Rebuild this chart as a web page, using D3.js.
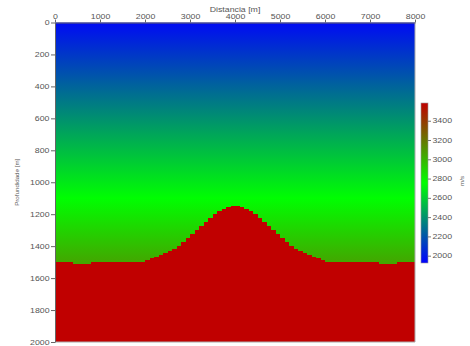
<!DOCTYPE html>
<html>
<head>
<meta charset="utf-8">
<script src="https://cdn.jsdelivr.net/npm/d3@7"></script>
<style>
  body { margin: 0; background: #fff; }
  text { font-family: "Liberation Sans", Arial, sans-serif; fill: #555; }
</style>
</head>
<body>
<svg id="chart" width="470" height="346"></svg>
<script>
// ticks
const distTicks = [0, 1000, 2000, 3000, 4000, 5000, 6000, 7000, 8000];
const depthTicks = [0, 200, 400, 600, 800, 1000, 1200, 1400, 1600, 1800, 2000];
const barTicks = [2000, 2200, 2400, 2600, 2800, 3000, 3200, 3400];

// upper layer: velocity read at depth samples (m -> m/s)
const gradDepths = [0, 100, 200, 300, 400, 500, 600, 700, 800, 900, 1000, 1100, 1200, 1300, 1400, 1500];
const gradVel = [1960, 2032, 2104, 2176, 2248, 2320, 2392, 2464, 2536, 2608, 2680, 2752, 2824, 2896, 2968, 3040];

// interface depth per 100 m column, 0..7900 m
const cellStep = 100;
const interfaceDepth = [
  1500, 1500, 1500, 1500, 1510, 1510, 1510, 1510, 1500, 1500,
  1500, 1500, 1500, 1500, 1500, 1500, 1500, 1500, 1500, 1500,
  1484, 1476, 1468, 1458, 1446, 1432, 1416, 1397, 1375, 1352,
  1327, 1301, 1274, 1248, 1224, 1201, 1182, 1167, 1156, 1151,
  1151, 1156, 1167, 1182, 1201, 1224, 1248, 1274, 1301, 1327,
  1352, 1375, 1397, 1416, 1432, 1446, 1458, 1468, 1476, 1484,
  1500, 1500, 1500, 1500, 1500, 1500, 1500, 1500, 1500, 1500,
  1500, 1500, 1510, 1510, 1510, 1510, 1500, 1500, 1500, 1500
];
const lowerVel = 3584;

// colour range of the bar
const velMin = 1924, velMax = 3584;

const svg = d3.select("#chart");
const sx = 1.35; // wide glyphs
const fs = 6.5;
const fmt = d3.format("d");

const x = d3.scaleLinear().domain([0, 8000]).range([55, 415]);
const y = d3.scaleLinear().domain([0, 2000]).range([22.5, 342]);

const color = d3.scaleLinear()
  .domain([velMin, (velMin + velMax) / 2, velMax])
  .range(["#0000ff", "#00ff00", "#c00000"]);

const defs = svg.append("defs");

// gradient for the upper layer
const d0 = gradDepths[0], d1 = gradDepths[gradDepths.length - 1];
const grad = defs.append("linearGradient")
  .attr("id", "upper")
  .attr("gradientUnits", "userSpaceOnUse")
  .attr("x1", 0).attr("x2", 0)
  .attr("y1", y(d0))
  .attr("y2", y(d1));

grad.selectAll("stop")
  .data(gradDepths)
  .enter()
  .append("stop")
  .attr("offset", d => (d - d0) / (d1 - d0))
  .attr("stop-color", (d, i) => color(gradVel[i]));

svg.append("rect")
  .attr("x", x(0))
  .attr("y", y(0))
  .attr("width", x(8000) - x(0))
  .attr("height", y(2000) - y(0))
  .attr("fill", "url(#upper)");

// lower layer
svg.append("g")
  .selectAll("rect")
  .data(interfaceDepth)
  .enter()
  .append("rect")
  .attr("x", (d, i) => x(i * cellStep))
  .attr("width", (d, i) => x((i + 1) * cellStep) - x(i * cellStep) + 0.4)
  .attr("y", d => y(d))
  .attr("height", d => y(2000) - y(d))
  .attr("fill", color(lowerVel))
  .attr("shape-rendering", "crispEdges");

// border right / bottom
svg.append("path")
  .attr("d", `M${x(8000)},${y(0)}V${y(2000)}H${x(0)}`)
  .attr("fill", "none")
  .attr("stroke", "#aaa")
  .attr("stroke-width", 1);

// top axis
const xAxis = svg.append("g")
  .attr("transform", `translate(0,${y(0)})`)
  .call(d3.axisTop(x).tickValues(distTicks).tickFormat(fmt).tickSize(3).tickPadding(0.5).tickSizeOuter(0));
xAxis.select(".domain").attr("stroke", "#666");
xAxis.selectAll(".tick line").attr("stroke", "#666");
xAxis.selectAll("text")
  .attr("font-size", fs)
  .attr("transform", `scale(${sx},1)`);

svg.append("text")
  .attr("transform", `translate(${x(4000)},11.5) scale(${sx},1)`)
  .attr("text-anchor", "middle")
  .attr("font-size", fs)
  .text("Distancia [m]");

// left axis
const yAxis = svg.append("g")
  .attr("transform", `translate(${x(0)},0)`)
  .call(d3.axisLeft(y).tickValues(depthTicks).tickFormat(fmt).tickSize(4).tickPadding(1.5).tickSizeOuter(0));
yAxis.select(".domain").attr("stroke", "#666");
yAxis.selectAll(".tick line").attr("stroke", "#666");
yAxis.selectAll("text")
  .attr("font-size", fs)
  .attr("x", -5.5 / sx)
  .attr("transform", `scale(${sx},1)`);

svg.append("text")
  .attr("transform", `translate(19,${y(1000)}) rotate(-90)`)
  .attr("text-anchor", "middle")
  .attr("font-size", 6.2)
  .text("Profundidade [m]");

// colour bar
const barY = d3.scaleLinear().domain([velMin, velMax]).range([263, 103]);
const barGrad = defs.append("linearGradient")
  .attr("id", "bar")
  .attr("x1", 0).attr("x2", 0)
  .attr("y1", 1).attr("y2", 0);
barGrad.selectAll("stop")
  .data(color.domain())
  .enter()
  .append("stop")
  .attr("offset", d => (d - velMin) / (velMax - velMin))
  .attr("stop-color", d => color(d));

svg.append("rect")
  .attr("x", 421)
  .attr("y", barY(velMax))
  .attr("width", 7)
  .attr("height", barY(velMin) - barY(velMax))
  .attr("fill", "url(#bar)")
  .attr("stroke", "#999")
  .attr("stroke-width", 0.6);

const barAxis = svg.append("g")
  .attr("transform", "translate(428,0)")
  .call(d3.axisRight(barY).tickValues(barTicks).tickFormat(fmt).tickSize(3).tickPadding(1.5).tickSizeOuter(0));
barAxis.select(".domain").remove();
barAxis.selectAll(".tick line").attr("stroke", "#777");
barAxis.selectAll("text")
  .attr("font-size", fs)
  .attr("x", 4.5 / sx)
  .attr("transform", `scale(${sx},1)`);

svg.append("text")
  .attr("transform", `translate(464,${barY((velMin + velMax) / 2) - 2}) rotate(-90)`)
  .attr("text-anchor", "middle")
  .attr("font-size", 6.2)
  .text("m/s");
</script>
</body>
</html>
